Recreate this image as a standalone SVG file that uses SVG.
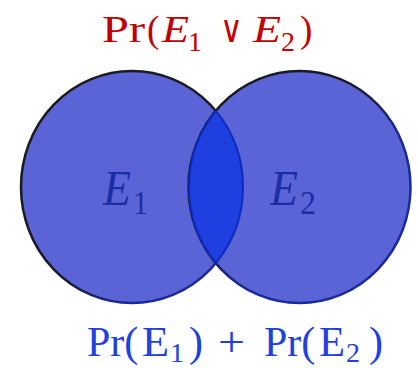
<svg xmlns="http://www.w3.org/2000/svg" width="418" height="368" viewBox="0 0 418 368">
<style>
.set{fill:#5b64d7;stroke-width:2.5}
.lens{fill:#1f3fe0;stroke:#0b2bc0;stroke-width:2}
.t{font-family:"Liberation Serif","Times New Roman",serif}
.i{font-style:italic}
.lbl{fill:#1c2ea6;font-size:50px}
</style>
<defs>
<linearGradient id="sL" x1="0" y1="0" x2="1" y2="1">
<stop offset="0" stop-color="#1a1a1a"/><stop offset="0.55" stop-color="#1a1a2a"/><stop offset="0.75" stop-color="#1a2a9a"/><stop offset="1" stop-color="#1a2a9a"/>
</linearGradient>
<linearGradient id="sR" x1="0" y1="0" x2="1" y2="1">
<stop offset="0" stop-color="#1a1a1a"/><stop offset="0.4" stop-color="#1a1a2a"/><stop offset="0.6" stop-color="#1a2a9a"/><stop offset="1" stop-color="#1a2a9a"/>
</linearGradient>
</defs>
<g id="E1">
<ellipse class="set" cx="132" cy="187" rx="111" ry="116" stroke="url(#sL)"/>
</g>
<g id="E2">
<ellipse class="set" cx="299.5" cy="187" rx="111" ry="116" stroke="url(#sR)"/>
</g>
<g id="intersection">
<path class="lens" d="M216,111.2 A111,116 0 0,1 216,262.8 A111,116 0 0,1 216,111.2 Z"/>
</g>
<g id="E1-label">
<text class="t lbl" y="205"><tspan class="i" x="103" textLength="28" lengthAdjust="spacingAndGlyphs">E</tspan><tspan x="133" y="214" font-size="34" textLength="15" lengthAdjust="spacingAndGlyphs">1</tspan></text>
</g>
<g id="E2-label">
<text class="t lbl" y="205"><tspan class="i" x="270" textLength="28" lengthAdjust="spacingAndGlyphs">E</tspan><tspan x="300" y="214" font-size="34" textLength="16" lengthAdjust="spacingAndGlyphs">2</tspan></text>
</g>
<g id="union-label">
<text class="t" fill="#c00000" font-size="37" y="42"><tspan x="102" textLength="43" lengthAdjust="spacingAndGlyphs">Pr</tspan><tspan x="147">(</tspan><tspan class="i" x="162" textLength="27" lengthAdjust="spacingAndGlyphs">E</tspan><tspan x="188" y="51" font-size="28">1</tspan><tspan x="220" y="42" font-size="38" textLength="23" lengthAdjust="spacingAndGlyphs">∨</tspan><tspan class="i" x="253" textLength="28" lengthAdjust="spacingAndGlyphs">E</tspan><tspan x="281" y="51" font-size="28">2</tspan><tspan x="300" y="42">)</tspan></text>
</g>
<g id="sum-label">
<text class="t" fill="#2040e0" font-size="42" y="356"><tspan x="87">Pr(</tspan><tspan x="142" textLength="27" lengthAdjust="spacingAndGlyphs">E</tspan><tspan x="170" y="362" font-size="28">1</tspan><tspan x="189" y="356">)</tspan><tspan x="218" textLength="27" lengthAdjust="spacingAndGlyphs">+</tspan><tspan x="264">Pr(</tspan><tspan x="319" textLength="26" lengthAdjust="spacingAndGlyphs">E</tspan><tspan x="346" y="362" font-size="28">2</tspan><tspan x="369" y="356">)</tspan></text>
</g>
</svg>
